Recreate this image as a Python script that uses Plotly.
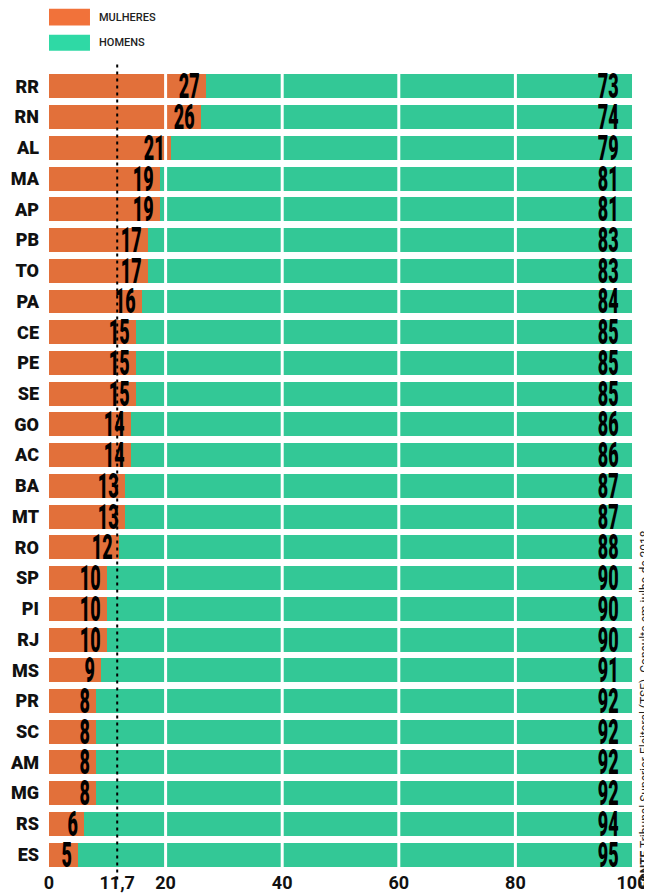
import plotly.graph_objects as go

states = ["RR", "RN", "AL", "MA", "AP", "PB", "TO", "PA", "CE", "PE", "SE", "GO", "AC",
          "BA", "MT", "RO", "SP", "PI", "RJ", "MS", "PR", "SC", "AM", "MG", "RS", "ES"]
mulheres = [27, 26, 21, 19, 19, 17, 17, 16, 15, 15, 15, 14, 14,
            13, 13, 12, 10, 10, 10, 9, 8, 8, 8, 8, 6, 5]
homens = [73, 74, 79, 81, 81, 83, 83, 84, 85, 85, 85, 86, 86,
          87, 87, 88, 90, 90, 90, 91, 92, 92, 92, 92, 94, 95]
tick_vals = [0, 11.7, 20, 40, 60, 80, 100]
tick_text = ["0", "11,7", "20", "40", "60", "80", "100"]
grid_vals = [20, 40, 60, 80]
media = 11.7

ORANGE = "#E2703A"
TEAL = "#33C896"
ORANGE_LEG = "#F1723A"
TEAL_LEG = "#2FD9A5"
NUMFONT = dict(family="Roboto, sans-serif", size=36, color="#000000", weight=900)

fig = go.Figure()
fig.add_trace(go.Bar(y=states, x=mulheres, orientation="h", marker=dict(color=ORANGE, line=dict(width=0)),
                     name="MULHERES", hoverinfo="x+y"))
fig.add_trace(go.Bar(y=states, x=homens, orientation="h", marker=dict(color=TEAL, line=dict(width=0)),
                     name="HOMENS", hoverinfo="x+y"))

shapes = []
for g in grid_vals:
    shapes.append(dict(type="line", xref="x", yref="paper", x0=g, x1=g, y0=0, y1=1,
                       line=dict(color="white", width=3), layer="above"))
shapes.append(dict(type="line", xref="x", yref="paper", x0=media, x1=media, y0=-0.012, y1=1.011,
                   line=dict(color="black", width=2, dash="3px,4px"), layer="above"))
# legend swatches
shapes.append(dict(type="rect", xref="paper", yref="paper", x0=0, x1=0.0703, y0=1.0568, y1=1.078,
                   fillcolor=ORANGE_LEG, line=dict(width=0)))
shapes.append(dict(type="rect", xref="paper", yref="paper", x0=0, x1=0.0703, y0=1.0255, y1=1.0455,
                   fillcolor=TEAL_LEG, line=dict(width=0)))

annotations = []
for s, w, h in zip(states, mulheres, homens):
    annotations.append(dict(x=w, y=s, xref="x", yref="y", text=str(w), showarrow=False,
                            xanchor="right", yanchor="middle", xshift=-5, yshift=0, font=NUMFONT,
                            height=30, valign="middle", borderpad=0))
    annotations.append(dict(x=w + h, y=s, xref="x", yref="y", text=str(h), showarrow=False,
                            xanchor="right", yanchor="middle", xshift=-12, yshift=0, font=NUMFONT,
                            height=30, valign="middle", borderpad=0))

LEGFONT = dict(family="Roboto, sans-serif", size=11, color="#222222", weight=500)
annotations.append(dict(x=0.082, y=1.0668, xref="paper", yref="paper", text="MULHERES",
                        showarrow=False, xanchor="left", yanchor="middle", font=LEGFONT))
annotations.append(dict(x=0.082, y=1.0355, xref="paper", yref="paper", text="HOMENS",
                        showarrow=False, xanchor="left", yanchor="middle", font=LEGFONT))
annotations.append(dict(x=1, y=0, xref="paper", yref="paper",
                        text="<b>FONTE</b> Tribunal Superior Eleitoral (TSE). Consulta em julho de 2018",
                        showarrow=False, textangle=-90, xanchor="center", yanchor="bottom",
                        xshift=13, yshift=-20,
                        font=dict(family="Roboto, sans-serif", size=12, color="#222222")))

fig.update_layout(
    barmode="stack",
    bargap=0.22,
    width=644, height=886,
    margin=dict(l=41, r=20, t=63, b=24, pad=0),
    paper_bgcolor="white", plot_bgcolor="white",
    showlegend=False,
    shapes=shapes,
    annotations=annotations,
    xaxis=dict(range=[0, 100], autorange=False, tickvals=tick_vals, ticktext=tick_text, showgrid=False,
               zeroline=False, showline=False, ticks="", automargin=False,
               tickfont=dict(family="Roboto, sans-serif", size=18, color="#111111", weight="bold")),
    yaxis=dict(categoryorder="array", categoryarray=states,
               range=[len(states) - 0.5, -0.5], autorange=False,
               showgrid=False, zeroline=False, showline=False, ticks="", automargin=False,
               ticklabelstandoff=9,
               tickfont=dict(family="Roboto, sans-serif", size=18, color="#111111", weight=900)),
)

# squeeze the big value labels horizontally (condensed look), keeping their right edge fixed
post = """
var gd = document.getElementById('{plot_id}');
gd.querySelectorAll('text.annotation-text').forEach(function(t){
  if (!/^\\d+$/.test(t.textContent)) return;
  var bb = t.getBBox();
  var xr = bb.x + bb.width;
  t.setAttribute('transform', 'translate(' + xr + ',0) scale(0.5,1) translate(' + (-xr) + ',0)');
});
"""

fig.write_html("out.html", post_script=post)
